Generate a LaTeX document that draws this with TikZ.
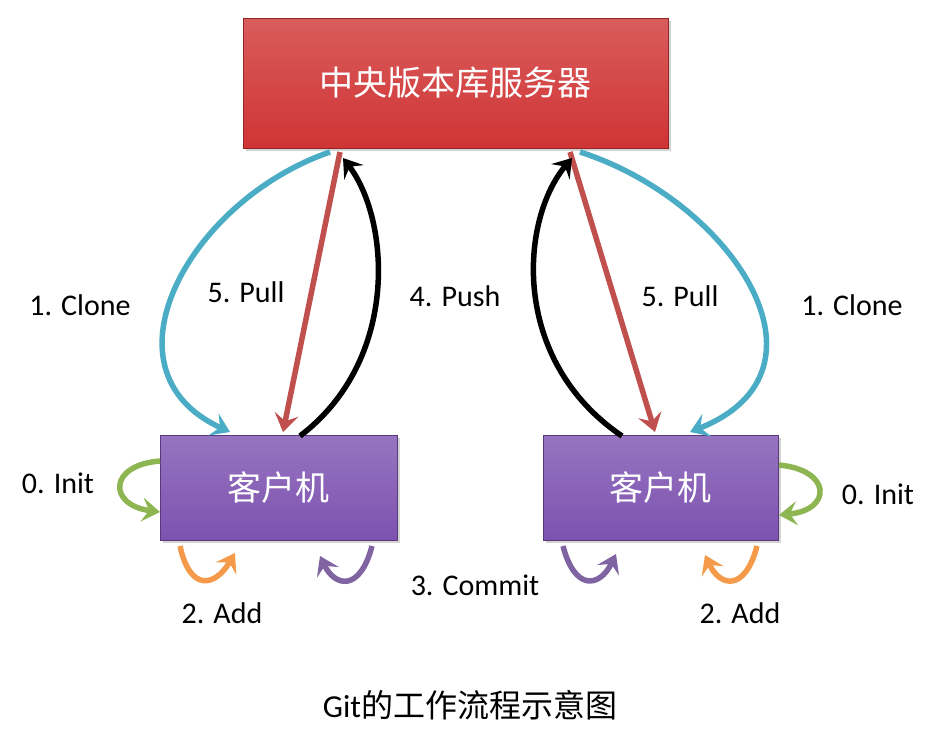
\documentclass[tikz,border=0pt]{standalone}
\usepackage{fontspec}
\setmainfont{Carlito}
\newfontfamily\cjk{Noto Sans CJK SC}
\usetikzlibrary{arrows.meta,shadows}
\definecolor{srv}{HTML}{D03434}
\definecolor{cli}{HTML}{7D52B0}
\definecolor{cy}{HTML}{4BACC6}
\definecolor{rd}{HTML}{C0504D}
\definecolor{gr}{HTML}{8DB653}
\definecolor{og}{HTML}{F59A4A}
\definecolor{pu}{HTML}{8064A2}
\begin{document}
\begin{tikzpicture}[x=1pt,y=-1pt,
 box/.style={draw=#1!70!black,line width=1pt,top color=#1!80!white,bottom color=#1,text=white,font=\cjk\fontsize{34}{40}\selectfont,drop shadow={opacity=0.35,shadow xshift=3pt,shadow yshift=-3pt}},
 arr/.style={line width=5.5pt,draw=#1,-{Stealth[length=18pt,width=24pt,inset=7pt]}},
 lab/.style={font=\fontsize{30}{34}\selectfont}]
\useasboundingbox (0,0) rectangle (936,736);
\node[box=srv,minimum width=425pt,minimum height=130pt] (S) at (455.5,83) {中央版本库服务器};
\node[box=cli,minimum width=237pt,minimum height=105pt] (L) at (278.5,487.5) {客户机};
\node[box=cli,minimum width=235pt,minimum height=105pt] (R) at (660.5,487.5) {客户机};
% left
\coordinate (a1) at (330,152); \coordinate (a2) at (230,432);
\draw[arr=cy] (a1) .. controls (190,200) and (95,370) .. (a2);
\coordinate (b1) at (340,152); \coordinate (b2) at (283,432);
\draw[arr=rd] (b1) -- (b2);
\coordinate (c1) at (300,436); \coordinate (c2) at (343,158);
\draw[arr=black] (c1) .. controls (400,360) and (390,220) .. (c2);
% right
\coordinate (d1) at (580,152); \coordinate (d2) at (690,432);
\draw[arr=cy] (d1) .. controls (730,200) and (845,370) .. (d2);
\coordinate (e1) at (570,152); \coordinate (e2) at (655,432);
\draw[arr=rd] (e1) -- (e2);
\coordinate (f1) at (622,436); \coordinate (f2) at (572,158);
\draw[arr=black] (f1) .. controls (510,360) and (520,220) .. (f2);
% init
\coordinate (g1) at (160,461); \coordinate (g2) at (160,512);
\draw[arr=gr] (g1) .. controls (108,465) and (108,505) .. (g2);
\coordinate (h1) at (779,465); \coordinate (h2) at (779,515);
\draw[arr=gr] (h1) .. controls (832,470) and (832,510) .. (h2);
% add / commit
\coordinate (i1) at (180,546); \coordinate (i2) at (235,553);
\draw[arr=og] (i1) .. controls (190,592) and (215,587) .. (i2);
\coordinate (j1) at (372,546); \coordinate (j2) at (320,556);
\draw[arr=pu] (j1) .. controls (360,592) and (335,587) .. (j2);
\coordinate (k1) at (563,546); \coordinate (k2) at (616,554);
\draw[arr=pu] (k1) .. controls (575,592) and (600,587) .. (k2);
\coordinate (l1) at (757,546); \coordinate (l2) at (705,555);
\draw[arr=og] (l1) .. controls (745,592) and (720,587) .. (l2);
% labels
\node[lab] (t1) at (80,305) {1. Clone};
\node[lab] (t2) at (246,292) {5. Pull};
\node[lab] (t3) at (455,296) {4. Push};
\node[lab] (t4) at (680,296) {5. Pull};
\node[lab] (t5) at (852,305) {1. Clone};
\node[lab] (t6) at (58,483) {0. Init};
\node[lab] (t7) at (878,494) {0. Init};
\node[lab] (t8) at (222,613) {2. Add};
\node[lab] (t9) at (475,585) {3. Commit};
\node[lab] (t10) at (740,613) {2. Add};
\node[font=\fontsize{32}{36}\selectfont] (cap) at (470,705) {Git{\cjk 的工作流程示意图}};
\end{tikzpicture}
\end{document}
